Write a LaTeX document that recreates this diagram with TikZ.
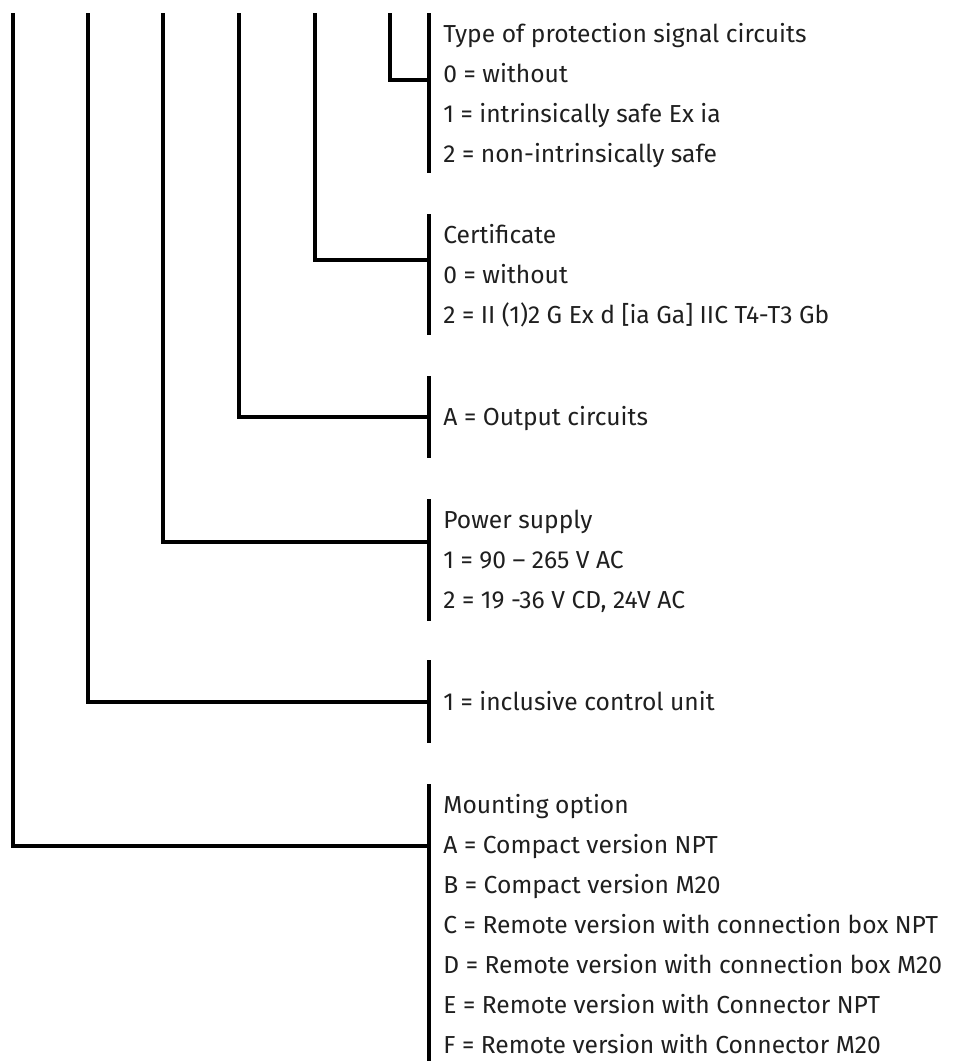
\documentclass[tikz,border=0pt]{standalone}
\usepackage{fontspec}
\setmainfont{Fira Sans}
\begin{document}
\begin{tikzpicture}[x=0.5pt,y=-0.5pt,
  wire/.style={line width=1.7pt, black},
  lbl/.style={anchor=base west, inner sep=0pt, font=\fontsize{12.3}{14}\selectfont, text=black!88}]
\useasboundingbox (0,0) rectangle (955,1061);
% bracket ends
\coordinate (b1t) at (429,13);  \coordinate (b1b) at (429,173);
\coordinate (b2t) at (429,214); \coordinate (b2b) at (429,335);
\coordinate (b3t) at (429,376); \coordinate (b3b) at (429,458);
\coordinate (b4t) at (429,499); \coordinate (b4b) at (429,621);
\coordinate (b5t) at (429,660); \coordinate (b5b) at (429,743);
\coordinate (b6t) at (429,784); \coordinate (b6b) at (429,1061);
% join points on brackets
\coordinate (j1) at (429,80);
\coordinate (j2) at (429,260);
\coordinate (j3) at (429,417);
\coordinate (j4) at (429,542);
\coordinate (j5) at (429,702);
\coordinate (j6) at (429,846);
% tops of the code lines
\coordinate (t1) at (390,13);
\coordinate (t2) at (315,13);
\coordinate (t3) at (239,13);
\coordinate (t4) at (163,13);
\coordinate (t5) at (88,13);
\coordinate (t6) at (13,13);
% brackets
\foreach \i in {1,...,6} \draw[wire] (b\i t) -- (b\i b);
% connectors
\foreach \i in {1,...,6} \draw[wire] (t\i) |- (j\i);
% texts
\node[lbl] (a0) at (443,42) {Type of protection signal circuits};
\node[lbl] (a1) at (443,82) {0 = without};
\node[lbl] (a2) at (443,122) {1 = intrinsically safe Ex ia};
\node[lbl] (a3) at (443,162) {2 = non-intrinsically safe};
\node[lbl] (c0) at (443,243) {Certificate};
\node[lbl] (c1) at (443,283) {0 = without};
\node[lbl] (c2) at (443,323) {2 = II (1)2 G Ex d [ia Ga] IIC T4-T3 Gb};
\node[lbl] (o1) at (443,425) {A = Output circuits};
\node[lbl] (p0) at (443,528) {Power supply};
\node[lbl] (p1) at (443,568) {1 = 90 – 265 V AC};
\node[lbl] (p2) at (443,608) {2 = 19 -36 V CD, 24V AC};
\node[lbl] (i1) at (443,710) {1 = inclusive control unit};
\node[lbl] (m0) at (443,813) {Mounting option};
\node[lbl] (m1) at (443,853) {A = Compact version NPT};
\node[lbl] (m2) at (443,893) {B = Compact version M20};
\node[lbl] (m3) at (443,933) {C = Remote version with connection box NPT};
\node[lbl] (m4) at (443,973) {D = Remote version with connection box M20};
\node[lbl] (m5) at (443,1013) {E = Remote version with Connector NPT};
\node[lbl] (m6) at (443,1053) {F = Remote version with Connector M20};
\end{tikzpicture}
\end{document}
